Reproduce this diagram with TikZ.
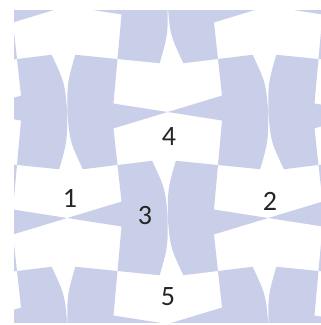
\documentclass[tikz,border=0pt]{standalone}
\usepackage{fontspec}
\setmainfont{Carlito}
\definecolor{tileblue}{RGB}{201,207,232}
\tikzset{
  tilefill/.style={fill=tileblue, draw=none},
  numlabel/.style={font=\fontsize{28}{30}\selectfont, text=black!85, inner sep=0pt}
}
\newcommand{\tileB}{\fill[tilefill] (0,0) -- (0.69,-0.08) .. controls (0.95,0.45) .. (1,1) .. controls (1.0,1.55) .. (0.84,2.08) -- (0,2) -- (0.08,1.16) -- (-1,1) -- (0.08,0.69) -- cycle;}
\begin{document}
\begin{tikzpicture}
\useasboundingbox (0,0) rectangle (321pt,-325pt);
\begin{scope}
  \clip (14pt,-10pt) rectangle (321pt,-322pt);
  \begin{scope}[shift={(117.5pt,-165pt)}, xscale=50.25, yscale=-53, x=1pt, y=1pt]
    \foreach \cx/\cy in {-2/-1, -2/3, 0/-3, 0/1, 2/-1, 2/3, 4/-3, 4/1} {
      \begin{scope}[shift={(\cx,\cy-1)}] \tileB \end{scope}
    }
    \foreach \cx/\cy in {-2/-3, -2/1, 0/-1, 0/3, 2/-3, 2/1, 4/-1, 4/3} {
      \begin{scope}[shift={(\cx,\cy+1)}, rotate=180] \tileB \end{scope}
    }
  \end{scope}
\end{scope}
\node[numlabel] (n1) at (70pt,-198pt) {1};
\node[numlabel] (n2) at (270pt,-201pt) {2};
\node[numlabel] (n3) at (145pt,-216pt) {3};
\node[numlabel] (n4) at (169pt,-137pt) {4};
\node[numlabel] (n5) at (168pt,-297pt) {5};
\end{tikzpicture}
\end{document}
